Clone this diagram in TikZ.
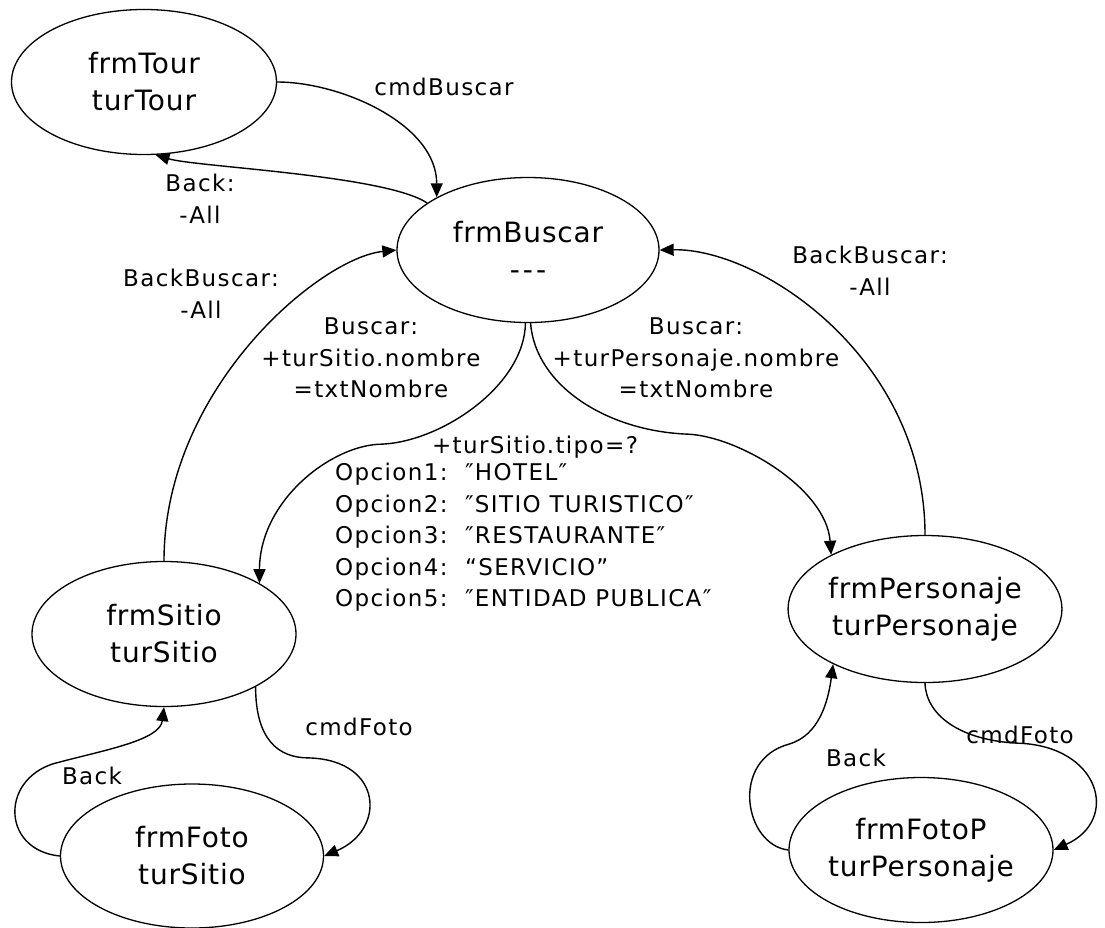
\documentclass[tikz,border=0pt]{standalone}
\usepackage{fontspec}
\setmainfont{DejaVu Sans}
\newfontfamily\statefont[LetterSpace=3]{DejaVu Sans}
\newfontfamily\labelfont[LetterSpace=6]{DejaVu Sans}
\usetikzlibrary{arrows.meta,shapes.geometric}
\newcommand{\minusall}{-\kern1.5pt All}
\begin{document}
\begin{tikzpicture}[x=1pt,y=-1pt,
  state/.style={draw, ellipse, line width=1.3pt, inner sep=0pt, align=center,
    font=\statefont\fontsize{28}{37}\selectfont},
  lbl/.style={inner sep=0pt, align=center, font=\labelfont\fontsize{23}{31.5}\selectfont},
  arr/.style={line width=1.4pt, -{Triangle[length=14pt,width=12pt]}}]
\useasboundingbox (0,0) rectangle (1105,927);

% states
\node[state, minimum width=265pt, minimum height=145pt] (tour)   at (144,82)  {frmTour\\turTour};
\node[state, minimum width=262pt, minimum height=145pt] (buscar) at (528,250) {frmBuscar\\-\kern3pt-\kern3pt-};
\node[state, minimum width=264pt, minimum height=145pt] (sitio)  at (164,634) {frmSitio\\turSitio};
\node[state, minimum width=263pt, minimum height=144pt] (foto)   at (192,856) {frmFoto\\turSitio};
\node[state, minimum width=266pt, minimum height=147pt] (pers)   at (925,609) {frmPersonaje\\turPersonaje};
\node[state, minimum width=264pt, minimum height=145pt] (fotop)  at (921,850) {frmFotoP\\turPersonaje};

% transitions
\draw[arr] (tour.0) .. controls +(64,0) and +(0,-73) .. (buscar.150);
\draw[arr] (buscar.155) .. controls +(-42,-28) and +(40,12) .. (tour.279);
\draw[arr] (sitio.90) .. controls +(0,-172) and +(-77,8) .. (buscar.180);
\draw[arr] (buscar.268) .. controls +(-1,62) and +(60,-3) .. ++(-143,121)
                        .. controls +(-50,0) and +(0,-83) .. (sitio.28);
\draw[arr] (buscar.272) .. controls +(5,63) and +(-80,-3) .. ++(157,111)
                        .. controls +(50,2) and +(-5,-67) .. (pers.150);
\draw[arr] (pers.90) .. controls +(0,-176) and +(101,-2) .. (buscar.0);
\draw[arr] (sitio.330) .. controls +(0,53) and +(-30,0) .. ++(53,71)
                       .. controls +(75,2) and +(62,-26) .. (foto.0);
\draw[arr] (foto.180) .. controls +(-60,-6) and +(-60,13) .. ++(0,-94)
                      .. controls +(45,-12) and +(-4,33) .. (sitio.270);
\draw[arr] (pers.270) .. controls +(1,32) and +(-57,-3) .. ++(92,60)
                      .. controls +(83,2) and +(67,-30) .. (fotop.0);
\draw[arr] (fotop.180) .. controls +(-44,-5) and +(-60,16) .. ++(1,-106)
                       .. controls +(30,-9) and +(-5,37) .. (pers.211);

% labels
\node[lbl] (lcmdb)  at (444,87)  {cmdBuscar};
\node[lbl] (lback)  at (200,199) {Back:\\\minusall};
\node[lbl] (lbbl)   at (201,294) {BackBuscar:\\\minusall};
\node[lbl] (lbbr)   at (870,271) {BackBuscar:\\\minusall};
\node[lbl] (lbusl)  at (371,358) {Buscar:\\+turSitio.nombre\\=txtNombre};
\node[lbl] (lbusr)  at (696,358) {Buscar:\\+turPersonaje.nombre\\=txtNombre};
\node[lbl] (ltipo)  at (535,447) {+turSitio.tipo=?};
\node[lbl, anchor=north west, align=left] (lopc) at (335,463)
  {Opcion1:\ \ ″HOTEL″\\Opcion2:\ \ ″SITIO TURISTICO″\\Opcion3:\ \ ″RESTAURANTE″\\Opcion4:\ \ “SERVICIO”\\Opcion5:\ \ ″ENTIDAD PUBLICA″};
\node[lbl] (lfotol) at (359,727) {cmdFoto};
\node[lbl] (lbackl) at (92,776)  {Back};
\node[lbl] (lfotor) at (1020,735) {cmdFoto};
\node[lbl] (lbackr) at (856,758) {Back};
\end{tikzpicture}
\end{document}
